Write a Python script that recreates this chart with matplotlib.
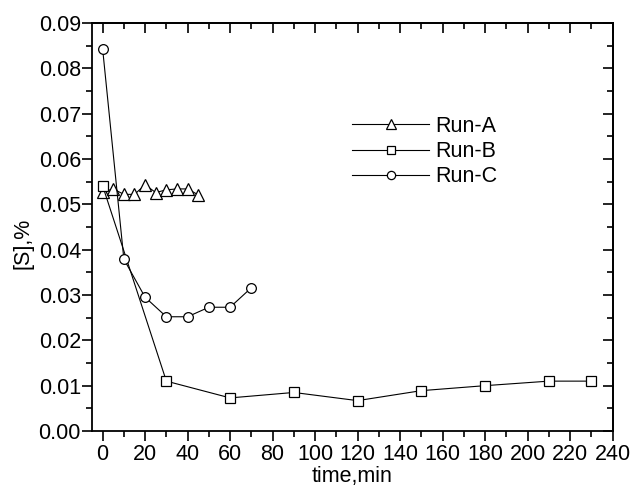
#!/usr/bin/env python3
"""Sulfur content [S] vs time for three runs."""

import matplotlib
matplotlib.use("Agg")
import matplotlib.pyplot as plt
from matplotlib.ticker import MultipleLocator, FormatStrFormatter

# data
time_a = [0, 5, 10, 15, 20, 25, 30, 35, 40, 45]
s_a = [0.0527, 0.0534, 0.0522, 0.0522, 0.0543, 0.0526, 0.0532, 0.0534, 0.0534, 0.0521]

time_b = [0, 30, 60, 90, 120, 150, 180, 210, 230]
s_b = [0.0541, 0.0110, 0.0073, 0.0085, 0.0067, 0.0089, 0.0100, 0.0110, 0.0110]

time_c = [0, 10, 20, 30, 40, 50, 60, 70]
s_c = [0.0843, 0.0379, 0.0295, 0.0252, 0.0252, 0.0273, 0.0273, 0.0316]

plt.rcParams["font.family"] = ["Liberation Sans", "DejaVu Sans"]
FS = 15.5

fig = plt.figure(figsize=(6.31, 4.93), dpi=100)
ax = fig.add_axes([92 / 631, 1 - 431 / 493, (612.5 - 92) / 631, (431 - 23) / 493])

style = dict(color="black", linewidth=0.8, markerfacecolor="white",
             markeredgecolor="black", markeredgewidth=0.9)
ax.plot(time_a, s_a, marker="^", markersize=8.5, label="Run-A", **style)
ax.plot(time_b, s_b, marker="s", markersize=6.5, label="Run-B", **style)
ax.plot(time_c, s_c, marker="o", markersize=7, label="Run-C", **style)

ax.set_xlim(-5, 240)
ax.set_ylim(0, 0.09)
ax.xaxis.set_major_locator(MultipleLocator(20))
ax.xaxis.set_minor_locator(MultipleLocator(10))
ax.yaxis.set_major_locator(MultipleLocator(0.01))
ax.yaxis.set_minor_locator(MultipleLocator(0.005))
ax.yaxis.set_major_formatter(FormatStrFormatter("%.2f"))

for side in ax.spines.values():
    side.set_linewidth(1.3)

# outward ticks on bottom/left, inward on top/right (Origin style)
ax.tick_params(which="both", direction="out", width=1.2, labelsize=FS,
               top=False, right=False)
ax.tick_params(which="major", length=7)
ax.tick_params(which="minor", length=4.5)
ax.tick_params(axis="x", pad=2)
ax.tick_params(axis="y", pad=1)

top = ax.secondary_xaxis("top")
top.set_xticks(range(0, 241, 20))
top.xaxis.set_minor_locator(MultipleLocator(10))
top.tick_params(which="both", direction="in", width=1.2, labeltop=False)
top.tick_params(which="major", length=7)
top.tick_params(which="minor", length=4.5)
top.spines["top"].set_linewidth(1.3)

right = ax.secondary_yaxis("right")
right.yaxis.set_major_locator(MultipleLocator(0.01))
right.yaxis.set_minor_locator(MultipleLocator(0.005))
right.tick_params(which="both", direction="in", width=1.2, labelright=False)
right.tick_params(which="major", length=7)
right.tick_params(which="minor", length=4.5)
right.spines["right"].set_linewidth(1.3)

ax.set_xlabel("time,min", fontsize=FS, labelpad=1)
ax.set_ylabel("[S],%", fontsize=FS)
ax.yaxis.set_label_coords(-0.113, 0.46)

ax.legend(loc="upper left", bbox_to_anchor=(341 / 631, 1 - 105 / 493),
          bbox_transform=fig.transFigure, frameon=False, fontsize=FS,
          handlelength=3.6, handletextpad=0.3, labelspacing=0.2,
          borderpad=0, markerscale=0.85)

fig.savefig("out.png", dpi=100)
